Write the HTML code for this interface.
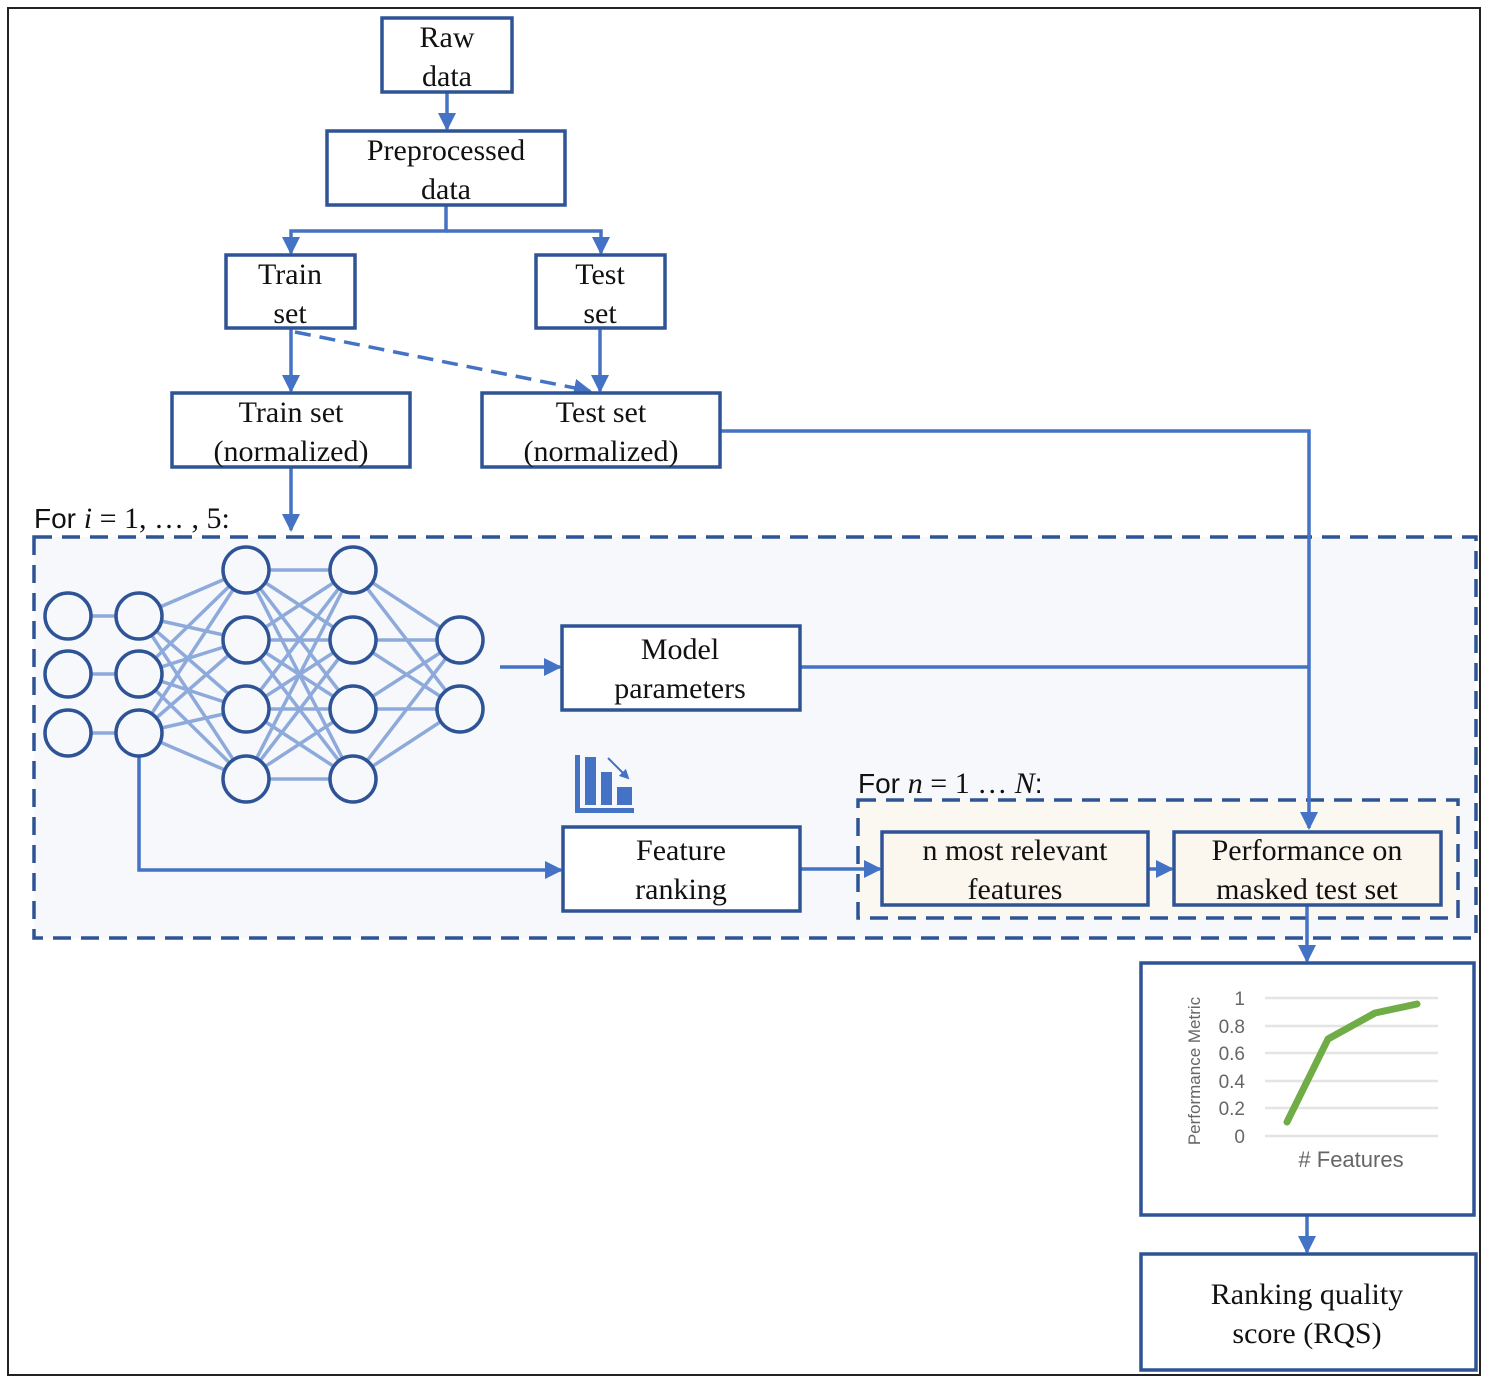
<!DOCTYPE html>
<html><head><meta charset="utf-8"><style>
html,body{margin:0;padding:0;background:#fff}
svg text{font-family:"Liberation Serif",serif;fill:#111}
svg text.s{font-family:"Liberation Sans",sans-serif}
svg text.g{font-family:"Liberation Sans",sans-serif;fill:#666}
</style></head><body>
<svg width="1489" height="1384" viewBox="0 0 1489 1384" xmlns="http://www.w3.org/2000/svg">
<defs>
<marker id="a" markerWidth="10" markerHeight="10" refX="8" refY="5" orient="auto" markerUnits="userSpaceOnUse" viewBox="0 0 10 10"><path d="M0,0 L10,5 L0,10 z" fill="#4472c4"/></marker>
<marker id="b" markerWidth="18" markerHeight="18" refX="16" refY="9" orient="auto" markerUnits="userSpaceOnUse" viewBox="0 0 18 18"><path d="M0,0 L18,9 L0,18 z" fill="#4472c4"/></marker>
</defs>
<rect x="8" y="8" width="1472" height="1367" fill="#fff" stroke="#222" stroke-width="2"/>
<rect x="34" y="537" width="1442" height="401" fill="#f6f8fc" stroke="#2f5496" stroke-width="3.5" stroke-dasharray="18,10"/>
<rect x="858" y="800" width="600" height="118" fill="#fbf8f2" stroke="#2f5496" stroke-width="3.5" stroke-dasharray="18,10"/>
<g stroke="#4472c4" stroke-width="3.5" fill="none">
<line x1="447" y1="92" x2="447" y2="129" marker-end="url(#b)"/>
<polyline points="446,205 446,231 291,231 291,253" marker-end="url(#b)"/>
<polyline points="446,231 601,231 601,253" marker-end="url(#b)"/>
<line x1="291" y1="328" x2="291" y2="391" marker-end="url(#b)"/>
<line x1="600" y1="328" x2="600" y2="391" marker-end="url(#b)"/>
<line x1="295" y1="332" x2="590" y2="391" stroke-dasharray="16,9" marker-end="url(#b)"/>
<line x1="291" y1="467" x2="291" y2="530" marker-end="url(#b)"/>
<polyline points="720,431 1309,431 1309,828" marker-end="url(#b)"/>
<line x1="800" y1="667" x2="1309" y2="667"/>
<line x1="500" y1="667" x2="560" y2="667" marker-end="url(#b)"/>
<polyline points="139,757 139,870 561,870" marker-end="url(#b)"/>
<line x1="800" y1="869" x2="880" y2="869" marker-end="url(#b)"/>
<line x1="1148" y1="869" x2="1172" y2="869" marker-end="url(#b)"/>
<line x1="1307" y1="905" x2="1307" y2="961" marker-end="url(#b)"/>
<line x1="1307" y1="1215" x2="1307" y2="1252" marker-end="url(#b)"/>
</g>
<g stroke="#8eaadb" stroke-width="3.5">
<line x1="92" y1="616" x2="115" y2="616"/><line x1="92" y1="674" x2="115" y2="674"/><line x1="92" y1="733" x2="115" y2="733"/>
<line x1="139" y1="616" x2="246" y2="570"/><line x1="139" y1="616" x2="246" y2="640"/><line x1="139" y1="616" x2="246" y2="709"/><line x1="139" y1="616" x2="246" y2="779"/>
<line x1="139" y1="674" x2="246" y2="570"/><line x1="139" y1="674" x2="246" y2="640"/><line x1="139" y1="674" x2="246" y2="709"/><line x1="139" y1="674" x2="246" y2="779"/>
<line x1="139" y1="733" x2="246" y2="570"/><line x1="139" y1="733" x2="246" y2="640"/><line x1="139" y1="733" x2="246" y2="709"/><line x1="139" y1="733" x2="246" y2="779"/>
<line x1="246" y1="570" x2="353" y2="570"/><line x1="246" y1="570" x2="353" y2="640"/><line x1="246" y1="570" x2="353" y2="709"/><line x1="246" y1="570" x2="353" y2="779"/>
<line x1="246" y1="640" x2="353" y2="570"/><line x1="246" y1="640" x2="353" y2="640"/><line x1="246" y1="640" x2="353" y2="709"/><line x1="246" y1="640" x2="353" y2="779"/>
<line x1="246" y1="709" x2="353" y2="570"/><line x1="246" y1="709" x2="353" y2="640"/><line x1="246" y1="709" x2="353" y2="709"/><line x1="246" y1="709" x2="353" y2="779"/>
<line x1="246" y1="779" x2="353" y2="570"/><line x1="246" y1="779" x2="353" y2="640"/><line x1="246" y1="779" x2="353" y2="709"/><line x1="246" y1="779" x2="353" y2="779"/>
<line x1="353" y1="570" x2="460" y2="640"/><line x1="353" y1="570" x2="460" y2="709"/>
<line x1="353" y1="640" x2="460" y2="640"/><line x1="353" y1="640" x2="460" y2="709"/>
<line x1="353" y1="709" x2="460" y2="640"/><line x1="353" y1="709" x2="460" y2="709"/>
<line x1="353" y1="779" x2="460" y2="640"/><line x1="353" y1="779" x2="460" y2="709"/>
</g>
<g fill="#f6f8fc" stroke="#2f5496" stroke-width="3.5">
<circle cx="68" cy="616" r="23"/><circle cx="68" cy="674" r="23"/><circle cx="68" cy="733" r="23"/>
<circle cx="139" cy="616" r="23"/><circle cx="139" cy="674" r="23"/><circle cx="139" cy="733" r="23"/>
<circle cx="246" cy="570" r="23"/><circle cx="246" cy="640" r="23"/><circle cx="246" cy="709" r="23"/><circle cx="246" cy="779" r="23"/>
<circle cx="353" cy="570" r="23"/><circle cx="353" cy="640" r="23"/><circle cx="353" cy="709" r="23"/><circle cx="353" cy="779" r="23"/>
<circle cx="460" cy="640" r="23"/><circle cx="460" cy="709" r="23"/>
</g>
<g fill="#4472c4">
<rect x="575" y="755" width="5" height="57"/><rect x="575" y="808" width="59" height="5"/>
<rect x="585" y="757" width="11" height="48"/><rect x="601" y="772" width="11" height="33"/><rect x="617" y="787" width="15" height="18"/>
</g>
<line x1="608" y1="758" x2="628" y2="778" stroke="#4472c4" stroke-width="2" marker-end="url(#a)"/>
<g fill="#fff" stroke="#2f5496" stroke-width="3.5">
<rect x="382" y="18" width="130" height="74"/>
<rect x="327" y="131" width="238" height="74"/>
<rect x="226" y="255" width="129" height="73"/>
<rect x="536" y="255" width="129" height="73"/>
<rect x="172" y="393" width="238" height="74"/>
<rect x="482" y="393" width="238" height="74"/>
<rect x="562" y="626" width="238" height="84"/>
<rect x="563" y="827" width="237" height="84"/>
<rect x="882" y="832" width="266" height="73" fill="#fbf6ee"/>
<rect x="1174" y="832" width="267" height="73" fill="#fbf6ee"/>
<rect x="1141" y="963" width="333" height="252"/>
<rect x="1141" y="1254" width="335" height="116"/>
</g>
<g font-size="30" text-anchor="middle">
<text x="447" y="47">Raw</text><text x="447" y="86">data</text>
<text x="446" y="160">Preprocessed</text><text x="446" y="199">data</text>
<text x="290" y="284">Train</text><text x="290" y="323">set</text>
<text x="600" y="284">Test</text><text x="600" y="323">set</text>
<text x="291" y="422">Train set</text><text x="291" y="461">(normalized)</text>
<text x="601" y="422">Test set</text><text x="601" y="461">(normalized)</text>
<text x="680" y="659">Model</text><text x="680" y="698">parameters</text>
<text x="681" y="860">Feature</text><text x="681" y="899">ranking</text>
<text x="1015" y="860">n most relevant</text><text x="1015" y="899">features</text>
<text x="1307" y="860">Performance on</text><text x="1307" y="899">masked test set</text>
<text x="1307" y="1304">Ranking quality</text><text x="1307" y="1343">score (RQS)</text>
</g>
<text x="34" y="528" font-size="28" class="s">For <tspan font-family="Liberation Serif" font-style="italic" font-size="30">i</tspan><tspan font-family="Liberation Serif" font-size="30"> = 1, … , 5:</tspan></text>
<text x="858" y="793" font-size="28" class="s">For <tspan font-family="Liberation Serif" font-style="italic" font-size="30">n</tspan><tspan font-family="Liberation Serif" font-size="30"> = 1 … </tspan><tspan font-family="Liberation Serif" font-style="italic" font-size="30">N</tspan>:</text>
<g stroke="#e4e4e4" stroke-width="2.5">
<line x1="1265" y1="998" x2="1438" y2="998"/><line x1="1265" y1="1026" x2="1438" y2="1026"/><line x1="1265" y1="1053" x2="1438" y2="1053"/>
<line x1="1265" y1="1081" x2="1438" y2="1081"/><line x1="1265" y1="1108" x2="1438" y2="1108"/><line x1="1265" y1="1136" x2="1438" y2="1136"/>
</g>
<polyline points="1287,1122 1328,1039 1375,1013 1417,1004" fill="none" stroke="#70ad47" stroke-width="7" stroke-linecap="round" stroke-linejoin="round"/>
<g font-size="19" text-anchor="end">
<text class="g" x="1245" y="1005">1</text><text class="g" x="1245" y="1033">0.8</text><text class="g" x="1245" y="1060">0.6</text>
<text class="g" x="1245" y="1088">0.4</text><text class="g" x="1245" y="1115">0.2</text><text class="g" x="1245" y="1143">0</text>
</g>
<text x="1351" y="1167" class="g" font-size="22" text-anchor="middle">#&#160;Features</text>
<text transform="translate(1200,1071) rotate(-90)" class="g" font-size="17" text-anchor="middle">Performance Metric</text>
</svg>
</body></html>
